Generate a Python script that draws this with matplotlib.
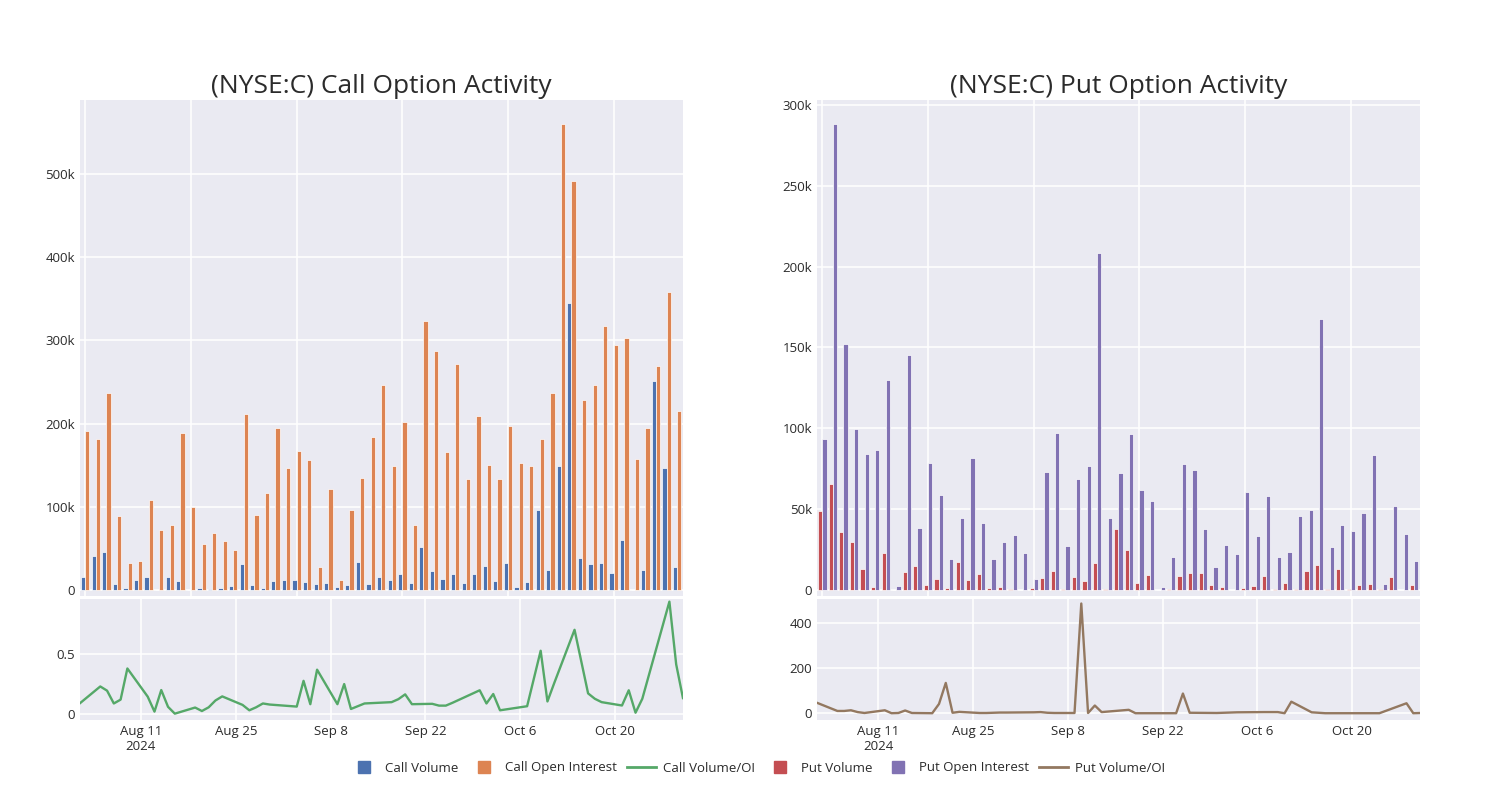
import matplotlib
matplotlib.use("Agg")
import matplotlib.pyplot as plt
from matplotlib.lines import Line2D
from matplotlib.ticker import FuncFormatter
import pandas as pd

# trading days shown (57)
dates = ["2024-08-02", "2024-08-05", "2024-08-06", "2024-08-07", "2024-08-08", "2024-08-09",
         "2024-08-12", "2024-08-13", "2024-08-14", "2024-08-15", "2024-08-16",
         "2024-08-19", "2024-08-20", "2024-08-21", "2024-08-22", "2024-08-23",
         "2024-08-26", "2024-08-27", "2024-08-28", "2024-08-29", "2024-08-30",
         "2024-09-03", "2024-09-04", "2024-09-05", "2024-09-06",
         "2024-09-09", "2024-09-10", "2024-09-11", "2024-09-12", "2024-09-13",
         "2024-09-17", "2024-09-18", "2024-09-19", "2024-09-20",
         "2024-09-23", "2024-09-24", "2024-09-25", "2024-09-26", "2024-09-30",
         "2024-10-01", "2024-10-02", "2024-10-03", "2024-10-07", "2024-10-09",
         "2024-10-10", "2024-10-11", "2024-10-14", "2024-10-16", "2024-10-17",
         "2024-10-18", "2024-10-21", "2024-10-22", "2024-10-23", "2024-10-24",
         "2024-10-28", "2024-10-29", "2024-10-30"]

# values in thousands of contracts
call_volume = [16, 41.3, 45.7, 6.8, 2.8, 12.4, 15.2, 0.5, 15.2, 11.2,
               0.3, 2, 1.2, 2.4, 4.4, 30.9, 6, 2.8, 11.2, 12.4,
               12.4, 9.2, 6.8, 8.8, 3.2, 6.4, 33.7, 7.6, 16, 12,
               19.3, 8.8, 51.4, 22.5, 13.6, 19.3, 8.8, 19.7, 29.3, 10.8,
               32.5, 3.6, 9.2, 96.3, 23.7, 148.5, 345, 38.5, 31.7, 32.5,
               20.9, 60.6, 0.3, 24, 250.8, 146.5, 27.7]
call_oi = [191, 181.4, 237, 89.5, 32.9, 34.5, 108.3, 72.6, 78.3, 189,
           100, 55.8, 69, 59.4, 48.2, 212, 90.7, 117, 194.6, 146.5,
           167, 155.7, 28, 122, 11.6, 96.3, 134.8, 184, 246, 148.5,
           201.4, 78.7, 323.8, 287.7, 166, 271.7, 133.6, 209, 150, 133.2,
           196.6, 152.5, 149.3, 181.8, 236.8, 560, 491.6, 228.7, 246, 317,
           294, 303.4, 157, 194.2, 269.3, 358, 214.7]
call_vol_oi = [0.09, 0.23, 0.195, 0.088, 0.12, 0.38, 0.145, 0.02, 0.2, 0.06, 0.003,
               0.054, 0.025, 0.056, 0.113, 0.147, 0.076, 0.031, 0.056, 0.088, 0.079,
               0.062, 0.277, 0.082, 0.37, 0.082, 0.25, 0.042, 0.065, 0.088,
               0.099, 0.124, 0.164, 0.082, 0.085, 0.07, 0.07, 0.094, 0.198,
               0.088, 0.167, 0.031, 0.065, 0.528, 0.105, 0.258, 0.703, 0.172,
               0.127, 0.099, 0.071, 0.198, 0.011, 0.127, 0.938, 0.415, 0.133]

put_volume = [49, 65.4, 35.7, 29.7, 13.2, 1.6, 22.7, 0.1, 11, 14.8,
              2.9, 6.6, 1.4, 17.5, 6.4, 10, 1.2, 1.6, 0.8, 0.2,
              1.2, 7.6, 12, 0.8, 8.2, 5.8, 16.9, 0.8, 37.5, 24.5,
              4.5, 9.5, 0.1, 0.4, 8.9, 10.3, 10.3, 2.9, 1.6, 0.2,
              1.4, 2.3, 8.9, 0.8, 4.5, 0.6, 12, 15.7, 0.6, 13,
              0.6, 3.3, 3.7, 0.6, 8.2, 0.1, 3.3]
put_oi = [93.4, 288, 152, 99.6, 83.9, 86.6, 130, 2.7, 145.6, 38.6,
          78.6, 58.6, 19.2, 44.7, 81.6, 41.6, 19.2, 29.9, 34.2, 22.9,
          6.6, 73.2, 97.3, 27.4, 68.9, 76.5, 208.5, 44.3, 72.2, 96.7,
          61.6, 55.3, 2, 20.2, 78.1, 74, 37.5, 14.4, 27.6, 22.5,
          60.6, 33.6, 58.4, 20.2, 23.7, 45.6, 49.3, 167.4, 26.8, 40.2,
          36.5, 47.4, 83.3, 3.5, 52, 34.8, 17.9]
put_vol_oi = [46, 10, 10, 13, 5, 1, 13, 0, 1, 12, 1,
              0, 41, 134, 2, 6, 1, 1, 2, 3, 3,
              4, 5, 2, 1, 1, 485, 1, 34, 5,
              15, 0, 0, 0, 0, 0, 87, 2, 1,
              2, 3, 4, 5, 5, 0, 51, 4, 0,
              0, 0, 0, 0, 0, 0, 44, 0, 1]

date_ticks = ["2024-08-11", "2024-08-25", "2024-09-08", "2024-09-22", "2024-10-06", "2024-10-20"]
date_tick_labels = ["Aug 11\n2024", "Aug 25", "Sep 8", "Sep 22", "Oct 6", "Oct 20"]

BG = "#EAEAF2"
TXT = "#2b2b2b"
plt.rcParams["font.family"] = ["Open Sans", "DejaVu Sans"]

df = pd.DataFrame({"date": pd.to_datetime(dates),
                   "call_vol": [v * 1000 for v in call_volume],
                   "call_oi": [v * 1000 for v in call_oi],
                   "call_ratio": call_vol_oi,
                   "put_vol": [v * 1000 for v in put_volume],
                   "put_oi": [v * 1000 for v in put_oi],
                   "put_ratio": put_vol_oi})
idx = list(range(len(df)))


def kfmt(v, pos):
    if v == 0:
        return "0"
    return f"{int(round(v / 1000))}k"


def plainfmt(v, pos):
    return f"{v:g}"


def style(ax):
    ax.set_facecolor(BG)
    for s in ax.spines.values():
        s.set_visible(False)
    ax.grid(True, color="white", linewidth=1.1)
    ax.set_axisbelow(True)
    ax.tick_params(length=0, labelsize=9.5, colors=TXT)


def draw_panel(x0, col_vol, col_oi, col_ratio, c_vol, c_oi, c_line, title, ylim_top, ylim_bot, yticks_top, yticks_bot):
    ax_top = fig.add_axes([x0, 0.255, 0.402, 0.62])
    ax_bot = fig.add_axes([x0, 0.1, 0.402, 0.15125])
    style(ax_top)
    style(ax_bot)

    w = 0.4
    ax_top.bar([i - 0.2 for i in idx], df[col_vol], width=w, color=c_vol, edgecolor="white", linewidth=0.5)
    ax_top.bar([i + 0.2 for i in idx], df[col_oi], width=w, color=c_oi, edgecolor="white", linewidth=0.5)
    ax_top.set_xlim(-0.5, len(idx) - 0.45)
    ax_top.set_xticks(range(0, len(idx), 10))
    ax_top.set_xticklabels([])
    ax_top.set_ylim(*ylim_top)
    ax_top.set_yticks(yticks_top)
    ax_top.yaxis.set_major_formatter(FuncFormatter(kfmt))
    ax_top.set_title(title, fontsize=19, color=TXT, pad=5)

    ax_bot.plot(df["date"], df[col_ratio], color=c_line, linewidth=1.7)
    ax_bot.set_xlim(df["date"].iloc[0], df["date"].iloc[-1])
    ax_bot.set_ylim(*ylim_bot)
    ax_bot.set_yticks(yticks_bot)
    ax_bot.yaxis.set_major_formatter(FuncFormatter(plainfmt))
    ax_bot.set_xticks(pd.to_datetime(date_ticks))
    ax_bot.set_xticklabels(date_tick_labels)
    return ax_top, ax_bot


fig = plt.figure(figsize=(15, 8), dpi=100)

draw_panel(0.0533, "call_vol", "call_oi", "call_ratio", "#4C72B0", "#DD8452", "#55A868",
           "(NYSE:C) Call Option Activity", (-7200, 589000), (-0.05, 0.96),
           [0, 100000, 200000, 300000, 400000, 500000], [0, 0.5])
draw_panel(0.5447, "put_vol", "put_oi", "put_ratio", "#C44E52", "#8172B3", "#937860",
           "(NYSE:C) Put Option Activity", (-3700, 303000), (-30, 505),
           [0, 50000, 100000, 150000, 200000, 250000, 300000], [0, 200, 400])

handles = [
    Line2D([], [], marker="s", linestyle="none", markersize=9, color="#4C72B0"),
    Line2D([], [], marker="s", linestyle="none", markersize=9, color="#DD8452"),
    Line2D([], [], color="#55A868", linewidth=2),
    Line2D([], [], marker="s", linestyle="none", markersize=9, color="#C44E52"),
    Line2D([], [], marker="s", linestyle="none", markersize=9, color="#8172B3"),
    Line2D([], [], color="#937860", linewidth=2),
]
labels = ["Call Volume", "Call Open Interest", "Call Volume/OI", "Put Volume", "Put Open Interest", "Put Volume/OI"]
leg = fig.legend(handles, labels, loc="center", bbox_to_anchor=(0.505, 0.04), ncol=6, frameon=False,
                 fontsize=9.5, handlelength=2.2, columnspacing=0.8, handletextpad=0.5)
for t in leg.get_texts():
    t.set_color(TXT)

fig.savefig("out.png", dpi=100, facecolor="white")
